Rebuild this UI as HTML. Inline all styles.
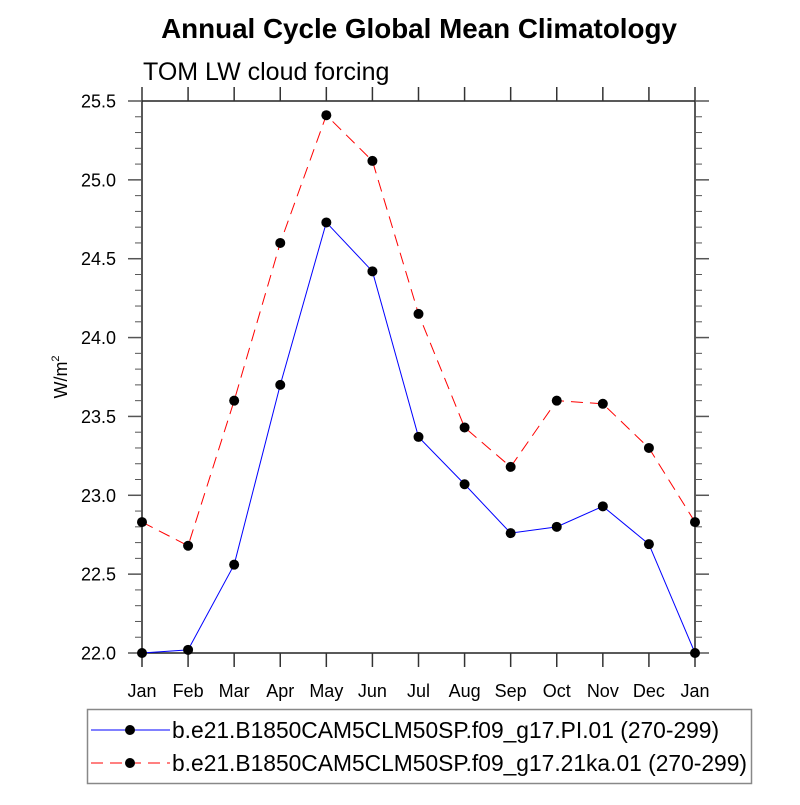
<!DOCTYPE html>
<html><head><meta charset="utf-8"><style>
body{margin:0;background:#fff}
svg text{font-family:"Liberation Sans",sans-serif;fill:#000}
</style></head><body>
<svg id="chart" width="800" height="800" viewBox="0 0 800 800" xmlns="http://www.w3.org/2000/svg">
<rect width="800" height="800" fill="#fff"/>
<text x="419" y="38" font-size="27.8" font-weight="bold" text-anchor="middle">Annual Cycle Global Mean Climatology</text>
<text x="143" y="80" font-size="25">TOM LW cloud forcing</text>
<text transform="translate(67,377) rotate(-90)" font-size="18" text-anchor="middle">W/m<tspan font-size="11" dy="-8">2</tspan></text>
<g id="axes"></g>
<g id="series"></g>
<g>
<rect x="87.5" y="709.5" width="664" height="74" fill="none" stroke="#888" stroke-width="1.5"/>
<line x1="91" y1="730" x2="170" y2="730" stroke="#0000ff" stroke-width="1"/>
<circle cx="130" cy="730" r="5" fill="#000"/>
<text x="172" y="738" font-size="22.8">b.e21.B1850CAM5CLM50SP.f09_g17.PI.01 (270-299)</text>
<line x1="91" y1="763" x2="170" y2="763" stroke="#ff0000" stroke-width="1" stroke-dasharray="12,7"/>
<circle cx="130" cy="763" r="5" fill="#000"/>
<text x="172" y="771" font-size="22.8">b.e21.B1850CAM5CLM50SP.f09_g17.21ka.01 (270-299)</text>
</g>
</svg>
<script>
const months = ["Jan","Feb","Mar","Apr","May","Jun","Jul","Aug","Sep","Oct","Nov","Dec","Jan"];
const piValues = [22.0,22.02,22.56,23.70,24.73,24.42,23.37,23.07,22.76,22.80,22.93,22.69,22.0];
const ka21Values = [22.83,22.68,23.60,24.60,25.41,25.12,24.15,23.43,23.18,23.60,23.58,23.30,22.83];
const yTicks = [22.0,22.5,23.0,23.5,24.0,24.5,25.0,25.5];
const yTickLabels = ["22.0","22.5","23.0","23.5","24.0","24.5","25.0","25.5"];

const L=142,R=695,T=101,B=653,YMIN=22.0,YMAX=25.5;
const ns="http://www.w3.org/2000/svg";
function xs(i){return L+(R-L)*i/(months.length-1);}
function ys(v){return B-(B-T)*(v-YMIN)/(YMAX-YMIN);}
function mk(tag,attrs,parent){const e=document.createElementNS(ns,tag);for(const k in attrs)e.setAttribute(k,attrs[k]);parent.appendChild(e);return e;}
const axes=document.getElementById('axes');
const frame=mk('rect',{x:L,y:T,width:R-L,height:B-T,fill:'none',stroke:'#222','stroke-width':1.5},axes);


months.forEach((m,i)=>{
  const x=xs(i);
  const t1=mk('line',{x1:x,y1:B,x2:x,y2:B+14,stroke:'#333','stroke-width':1.5},axes);
  
  
  const t2=mk('line',{x1:x,y1:T,x2:x,y2:T-14,stroke:'#333','stroke-width':1.5},axes);
  
  
  const lb=mk('text',{x:x,y:B+44,'font-size':18,'text-anchor':'middle'},axes);
  lb.textContent=m;
  
  
});
for(let k=0;k<=35;k++){
  const v=YMIN+k*0.1,y=ys(v),major=(k%5===0),len=major?14:7;
  const a=mk('line',{x1:L,y1:y,x2:L-len,y2:y,stroke:'#555','stroke-width':major?1.5:1},axes);
  
  
  const b=mk('line',{x1:R,y1:y,x2:R+len,y2:y,stroke:'#555','stroke-width':major?1.5:1},axes);
  
  
}
yTicks.forEach((v,i)=>{
  const lb=mk('text',{x:116,y:ys(v)+6.5,'font-size':18,'text-anchor':'end'},axes);
  lb.textContent=yTickLabels[i];
  
  
});
const sg=document.getElementById('series');
function draw(vals,color,dash,name){
  const pts=vals.map((v,i)=>xs(i)+','+ys(v)).join(' ');
  const pl=mk('polyline',{points:pts,fill:'none',stroke:color,'stroke-width':1,'stroke-dasharray':dash},sg);
  
  
  vals.forEach((v,i)=>{
    const c=mk('circle',{cx:xs(i),cy:ys(v),r:5,fill:'#000'},sg);
    
    
  });
}
draw(piValues,'#0000ff','none','pi-series');
draw(ka21Values,'#ff0000','12,7','ka21-series');
</script>
</body></html>
